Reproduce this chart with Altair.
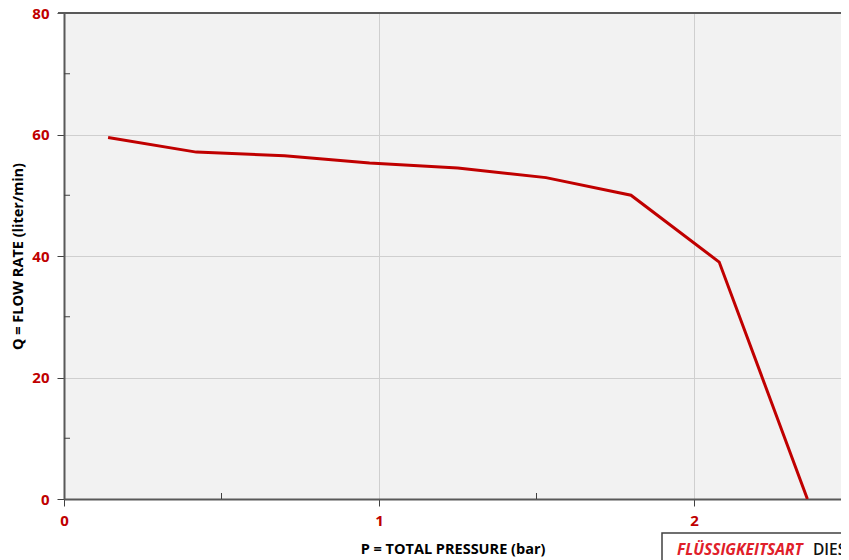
import altair as alt
import pandas as pd

pressure = [0.14, 0.42, 0.70, 0.97, 1.25, 1.53, 1.80, 2.08, 2.22, 2.36]
flow = [59.5, 57.1, 56.5, 55.3, 54.5, 52.9, 50.0, 39.0, 19.5, 0.0]
x_ticks = [0, 1, 2]
x_minor = [0.5, 1.5]
y_ticks = [0, 20, 40, 60, 80]
y_minor = [10, 30, 50, 70]

RED = "#c00000"
FONT = "Open Sans"
W = 777
H = 486

df = pd.DataFrame({"P": pressure, "Q": flow})
xs = alt.Scale(domain=[0, W / 315], nice=False, zero=False)
ys = alt.Scale(domain=[0, 80], nice=False)

line = alt.Chart(df).mark_line(color=RED, strokeWidth=3, clip=True).encode(
    x=alt.X("P:Q", scale=xs,
            axis=alt.Axis(values=x_ticks, format="d", title="P = TOTAL PRESSURE (bar)",
                          grid=True, gridColor="#cfcfcf", gridWidth=1,
                          domainColor="#595959", domainWidth=2,
                          tickColor="#404040", tickSize=7, tickWidth=1,
                          labelColor=RED, labelFont=FONT, labelFontSize=15,
                          labelFontWeight="bold", labelPadding=7,
                          titleFont=FONT, titleFontSize=14.5, titleFontWeight="bold",
                          titleColor="black", titlePadding=14, labelFlush=False)),
    y=alt.Y("Q:Q", scale=ys,
            axis=alt.Axis(values=y_ticks, format="d", title="Q = FLOW RATE (liter/min)",
                          grid=True, gridColor="#cfcfcf", gridWidth=1,
                          domainColor="#595959", domainWidth=2,
                          tickColor="#404040", tickSize=7, tickWidth=1,
                          labelColor=RED, labelFont=FONT, labelFontSize=15,
                          labelFontWeight="bold", labelPadding=8,
                          titleFont=FONT, titleFontSize=14.5, titleFontWeight="bold",
                          titleColor="black", titlePadding=6, labelFlush=False)),
)

top = alt.Chart(pd.DataFrame({"v": [80]})).mark_rule(color="#595959", strokeWidth=2).encode(
    y=alt.Y("v:Q", scale=ys), x=alt.value(-6), x2=alt.value(W))

ymin = alt.Chart(pd.DataFrame({"v": y_minor})).mark_rule(color="#404040", strokeWidth=1).encode(
    y=alt.Y("v:Q", scale=ys), x=alt.value(0), x2=alt.value(6))

xmin = alt.Chart(pd.DataFrame({"v": x_minor})).mark_rule(color="#404040", strokeWidth=1).encode(
    x=alt.X("v:Q", scale=xs), y=alt.value(H), y2=alt.value(H - 6))

box = alt.Chart(pd.DataFrame({"a": [1]})).mark_rect(
    fill="white", stroke="#404040", strokeWidth=1.5, clip=False).encode(
    x=alt.value(598), x2=alt.value(800), y=alt.value(520), y2=alt.value(600))

lab1 = alt.Chart(pd.DataFrame({"t": ["FLÜSSIGKEITSART"]})).mark_text(
    align="left", baseline="alphabetic", font=FONT, fontSize=15.5, fontWeight="bold",
    fontStyle="italic", color="#e0202a").encode(
    x=alt.value(613), y=alt.value(542), text="t:N")

lab2 = alt.Chart(pd.DataFrame({"t": ["DIESEL"]})).mark_text(
    align="left", baseline="alphabetic", font=FONT, fontSize=15.5, fontWeight=600,
    color="#111111").encode(
    x=alt.value(749), y=alt.value(542), text="t:N")

chart = alt.layer(line, top, ymin, xmin, box, lab1, lab2).properties(
    width=W, height=H,
    autosize=alt.AutoSizeParams(type="none"),
    padding={"left": 56, "top": 5, "right": 0, "bottom": 61},
).configure_view(fill="#f2f2f2", stroke=None)

chart.save("out.html", embed_options={"renderer": "svg", "actions": False})
